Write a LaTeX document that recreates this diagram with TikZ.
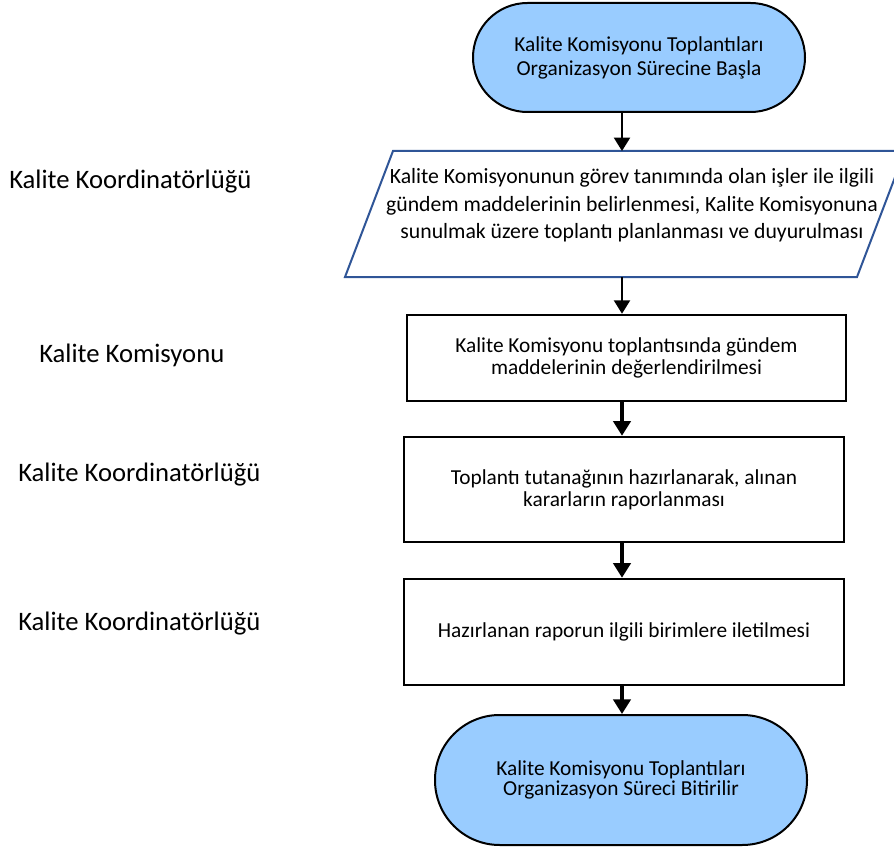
\documentclass[tikz,border=0pt]{standalone}
\usepackage{fontspec}
\setmainfont{Carlito}
\usepackage{xcolor}
\usetikzlibrary{positioning, arrows.meta}
\definecolor{termblue}{RGB}{153,204,255}
\definecolor{parablue}{RGB}{47,85,151}

\begin{document}
\begin{tikzpicture}[x=0.75pt, y=0.75pt,
    every node/.style={font=\fontsize{16}{16.5}\selectfont, inner sep=0pt},
    terminal/.style={draw, line width=1.5pt, fill=termblue, align=center},
    procbox/.style={draw, line width=1.9pt, align=center},
    role/.style={anchor=base west, font=\fontsize{20}{24}\selectfont},
    thinflow/.style={line width=1.5pt, -{Triangle[width=12pt, length=10pt]}},
    flow/.style={line width=2.5pt, -{Triangle[width=13pt, length=11pt]}}]
    % 画布大小 (894 x 849)
    \clip (0,0) rectangle (894,-849);

    % 箭头所在的竖线
    \coordinate (axis) at (622,0);

    % 开始
    \node[terminal, minimum width=249pt, minimum height=81.75pt, rounded corners=40.8pt,
          font=\fontsize{16}{18}\selectfont] (start) at (639,-57.5)
        {Kalite Komisyonu Toplantıları\\Organizasyon Sürecine Başla};

    % 平行四边形 (右上角超出画布)
    \draw[parablue, line width=1.5pt] (393,-151) -- (905,-151) -- (857,-277) -- (345,-277) -- cycle;
    \coordinate (ptop) at (622,-151);
    \coordinate (pbot) at (622,-277);
    \node[align=center, font=\fontsize{16.3}{20.6}\selectfont] (para) at (632,-205.5)
        {Kalite Komisyonunun görev tanımında olan işler ile ilgili\\
         gündem maddelerinin belirlenmesi, Kalite Komisyonuna\\
         sunulmak üzere toplantı planlanması ve duyurulması};

    % 三个处理框
    \node[procbox, minimum width=329.25pt, minimum height=64.5pt] (meeting) at (626.5,-358)
        {Kalite Komisyonu toplantısında gündem\\maddelerinin değerlendirilmesi};
    \node[procbox, minimum width=330pt, minimum height=78.75pt] (minutes) at (624,-489.5)
        {Toplantı tutanağının hazırlanarak, alınan\\kararların raporlanması};
    \node[procbox, minimum width=330pt, minimum height=79.5pt] (report) at (624,-632)
        {Hazırlanan raporun ilgili birimlere iletilmesi};

    % 结束
    \node[terminal, minimum width=279pt, minimum height=97.5pt, rounded corners=48.5pt,
          font=\fontsize{16}{15}\selectfont] (stop) at (621,-780)
        {Kalite Komisyonu Toplantıları\\Organizasyon Süreci Bitirilir};

    % 左侧的负责单位
    \node[role] (roleA) at (9,-189) {Kalite Koordinatörlüğü};
    \node[role] (roleB) at (39,-362) {Kalite Komisyonu};
    \node[role] (roleC) at (18,-481) {Kalite Koordinatörlüğü};
    \node[role] (roleD) at (18,-630) {Kalite Koordinatörlüğü};

    % 箭头
    \draw[thinflow] (start.south -| axis) -- (ptop);
    \draw[thinflow] (pbot) -- (meeting.north -| axis);
    \draw[flow] (meeting.south -| axis) -- (minutes.north -| axis);
    \draw[flow] (minutes.south -| axis) -- (report.north -| axis);
    \draw[flow] (report.south -| axis) -- (stop.north -| axis);
\end{tikzpicture}
\end{document}
